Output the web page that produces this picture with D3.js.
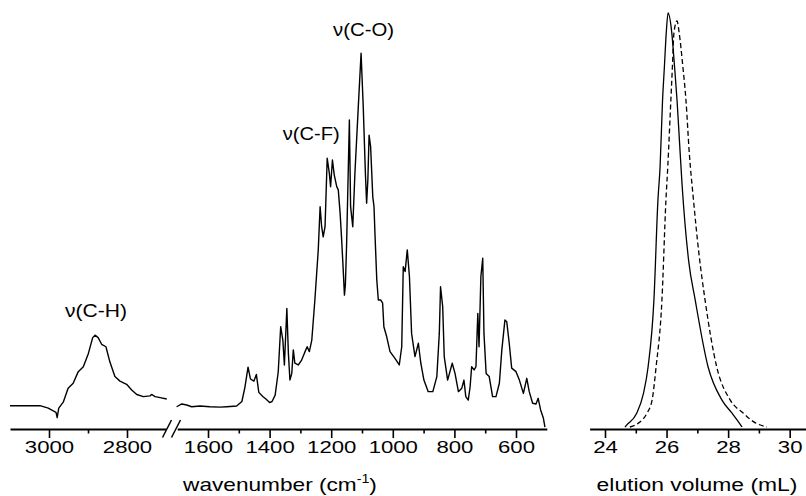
<!DOCTYPE html>
<html><head><meta charset="utf-8">
<script src="https://cdn.jsdelivr.net/npm/d3@7"></script>
<style>
body{margin:0;background:#fff}
svg{display:block}
text{font-family:Arial,"Liberation Sans",Helvetica,sans-serif;fill:#000}
</style>
</head><body>
<svg id="c" width="806" height="496"></svg>
<script>
// ---- IR spectrum, high wavenumber segment (cm-1, relative absorbance)
const irHighWn  = [3100,3023,3002,2989,2982,2979,2975,2963,2951,2938,2925,2912,2899,2888,2882,2874,2865,2854,2844,2831,2818,2801,2788,2775,2758,2741,2737,2728,2715,2698];
const irHighAbs = [-0.2,-0.2,-0.9,-1.7,-2.1,-3.6,-0.9,0.9,4.8,6.2,9.5,10.9,14.7,19.2,19.9,19.2,17.3,16.6,12.3,8.1,6.8,5.9,4.3,3.0,2.4,2.6,3.0,2.4,2.1,1.7];

// ---- IR spectrum, fingerprint segment
const irLowWn = [1702,1685,1669,1653,1626,1594,1561,1539,1507,1490,
1480,1470,1462,1451,1443,1435,1423,1412,1400,1392,
1382,1372,1364,1357,1352,1344,1339,1334,1328,1323,
1318,1307,1296,1285,1278,1271,1263,1253,1242,1236,
1231,1226,1220,1213,1206,1202,1196,1190,1182,1177,
1171,1166,1161,1157,1154,1150,1141,1137,1130,1123,
1112,1103,1096,1089,1085,1081,1077,1072,1065,1061,
1058,1052,1047,1039,1033,1029,1020,1009,993,979,
971,966,960,953,946,939,928,917,909,899,
885,870,857,849,845,838,833,822,807,798,
787,776,769,763,755,749,744,736,730,724,
720,714,708,704,697,687,676,665,654,646,
636,630,622,614,600,589,576,565,557,546,
535,528,520,511,506];
const irLowAbs = [-0.5,0.3,0,-0.5,-0.3,-0.5,-0.6,-0.5,-0.3,1.0,
5.1,10.8,7.4,6.8,8.7,3.6,2.5,1.7,0.7,1.0,
2.8,9.4,22.3,18.5,11.4,27.5,14.7,7.1,9.0,15.7,
11.9,11.4,12.8,15.2,16.6,15.2,18.5,29.9,44.2,56.5,
50.8,47.9,50.8,70.3,66.0,62.2,69.8,65.5,62.2,61.3,
54.6,47.0,38.5,31.3,34.2,45.6,81.2,56.5,50.8,66.0,
85.0,100.2,85.0,66.0,57.5,64.1,76.9,73.6,59.3,56.5,
49.0,35.6,29.9,29.9,29.0,22.3,19.5,15.2,13.3,11.4,
16.6,39.4,38.0,44.2,36.6,20.4,13.8,17.6,11.9,7.1,
3.8,3.8,8.1,20.4,33.7,28.0,13.8,7.1,11.9,9.0,
3.8,4.8,7.1,2.4,1.4,5.2,10.9,10.0,10.9,26.1,
16.6,36.6,41.8,20.4,9.0,8.1,2.4,2.4,6.2,15.7,
24.2,23.7,17.6,10.5,9.5,7.1,3.3,7.6,3.8,0.5,
0.3,1.9,-1.4,-3.8,-6.3];

// ---- GPC traces (elution volume mL, normalised signal)
const gpcVolSolid = [24.65,24.71,25.03,25.25,25.40,25.59,25.72,25.79,25.87,25.93,25.99,26.05,26.17,26.26,26.34,26.42,26.50,26.72,26.93,27.35,27.80,28.12,28.29,28.45];
const gpcIntSolid = [0,0.005,0.033,0.081,0.145,0.307,0.548,0.629,0.790,0.870,0.952,1.0,0.952,0.870,0.790,0.690,0.590,0.400,0.307,0.145,0.065,0.034,0.017,0];
const gpcVolDash  = [24.81,25.08,25.36,25.53,25.66,25.85,25.98,26.04,26.14,26.19,26.24,26.34,26.41,26.53,26.63,26.74,26.86,27.05,27.25,27.63,28.07,28.50,28.82,29.26];
const gpcIntDash  = [0,0.009,0.033,0.065,0.145,0.307,0.548,0.629,0.790,0.870,0.952,0.981,0.952,0.870,0.790,0.660,0.560,0.420,0.307,0.145,0.065,0.033,0.013,0];

// ---- ticks
const highMajor = [3000,2800], highMinor = [2900];
const lowMajor = [1600,1400,1200,1000,800,600], lowMinor = [1500,1300,1100,900,700];
const gpcMajor = [24,26,28,30], gpcMinor = [25,27,29];

// ---- annotations
const bandLabels = ["ν(C-H)","ν(C-F)","ν(C-O)"];
const bandWn = [2882,1213,1103];

const svg = d3.select("#c");
const axisY = 429;

const xHigh = d3.scaleLinear().domain([3100,2700]).range([10,166]);
const xLow  = d3.scaleLinear().domain([1700,500]).range([177.2,546.8]);
const yIR   = d3.scaleLinear().domain([0,100]).range([405,54]);
const xGpc  = d3.scaleLinear().domain([23.5,30.53]).range([589.6,806]);
const yGpc  = d3.scaleLinear().domain([0,1]).range([427,13]);

function drawAxis(scale, major, minor){
  const g = svg.append("g").attr("transform",`translate(0,${axisY})`);
  g.call(d3.axisBottom(scale).tickValues(major).tickSize(9).tickSizeOuter(0).tickFormat(d3.format("d")));
  g.select(".domain").attr("stroke","#000").attr("stroke-width",2);
  g.selectAll(".tick line").attr("stroke","#000").attr("stroke-width",1.6);
  g.selectAll(".tick text").attr("font-size",16.3).attr("font-family","Arial, 'Liberation Sans', sans-serif")
    .attr("y",24.5).attr("dy",0).attr("fill","#000").attr("transform","scale(1.36,1)");
  const m = svg.append("g").attr("transform",`translate(0,${axisY})`);
  m.call(d3.axisBottom(scale).tickValues(minor).tickSize(4.5).tickSizeOuter(0).tickFormat(""));
  m.select(".domain").remove();
  m.selectAll(".tick line").attr("stroke","#000").attr("stroke-width",1.6);
}
drawAxis(xHigh, highMajor, highMinor);
drawAxis(xLow, lowMajor, lowMinor);
drawAxis(xGpc, gpcMajor, gpcMinor);

// axis break marks
const gap0 = xHigh.range()[1];
[gap0-3.5, gap0+5.5].forEach(x0=>{
  svg.append("line").attr("x1",x0).attr("y1",437.5).attr("x2",x0+9).attr("y2",420)
    .attr("stroke","#000").attr("stroke-width",1.5);
});

// spectra
const lineIRHigh = d3.line().x(i=>xHigh(irHighWn[i])).y(i=>yIR(irHighAbs[i]));
const lineIRLow  = d3.line().x(i=>xLow(irLowWn[i])).y(i=>yIR(irLowAbs[i]));
svg.append("path").attr("d",lineIRHigh(d3.range(irHighWn.length)))
  .attr("fill","none").attr("stroke","#000").attr("stroke-width",1.4).attr("stroke-linejoin","round");
svg.append("path").attr("d",lineIRLow(d3.range(irLowWn.length)))
  .attr("fill","none").attr("stroke","#000").attr("stroke-width",1.4).attr("stroke-linejoin","round");

const lineGpcS = d3.line().curve(d3.curveMonotoneX).x(i=>xGpc(gpcVolSolid[i])).y(i=>yGpc(gpcIntSolid[i]));
const lineGpcD = d3.line().curve(d3.curveMonotoneX).x(i=>xGpc(gpcVolDash[i])).y(i=>yGpc(gpcIntDash[i]));
svg.append("path").attr("d",lineGpcS(d3.range(gpcVolSolid.length)))
  .attr("fill","none").attr("stroke","#000").attr("stroke-width",1.3);
svg.append("path").attr("d",lineGpcD(d3.range(gpcVolDash.length)))
  .attr("fill","none").attr("stroke","#000").attr("stroke-width",1.3).attr("stroke-dasharray","5,3");

// text helper: centred, horizontally fitted to a width
function label(cx, by, size, width, build){
  const t = svg.append("text").attr("font-size",size).attr("text-anchor","middle").attr("x",0).attr("y",0);
  build(t);
  const w = t.node().getComputedTextLength();
  const k = width / w;
  t.attr("transform",`translate(${cx},${by}) scale(${k},1)`);
  return t;
}
// band annotations
const annX = [xHigh(bandWn[0])+1, xLow(bandWn[1])-16, xLow(bandWn[2])+2.5];
const annY = [317, 140, 36];
const annW = [62, 57, 61];
bandLabels.forEach((s,i)=> label(annX[i], annY[i], 18.5, annW[i], t=>t.text(s)));

// axis titles
label(280, 491, 19, 194, t=>{
  t.append("tspan").text("wavenumber (cm");
  t.append("tspan").attr("font-size",12).attr("dy",-8).text("-1");
  t.append("tspan").attr("dy",8).text(")");
});
label(697, 491, 19, 201, t=>t.text("elution volume (mL)"));
</script>
</body></html>
